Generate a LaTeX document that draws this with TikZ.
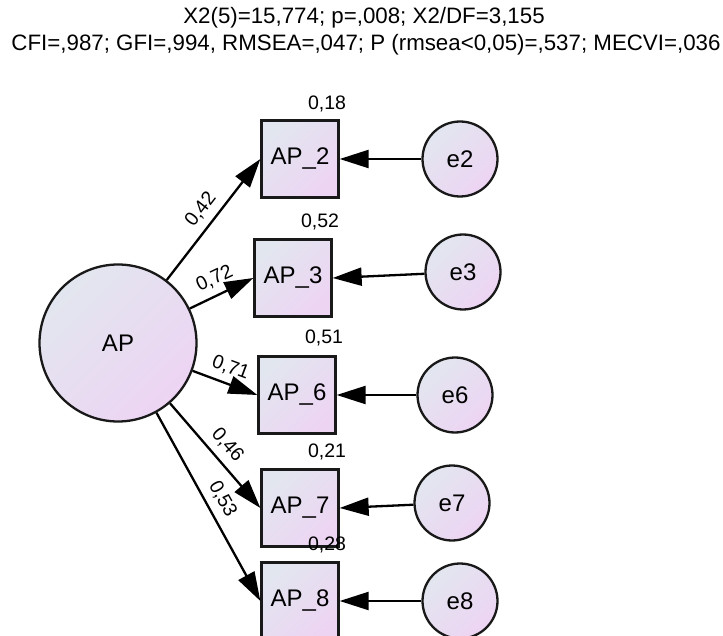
\documentclass[tikz,border=0pt]{standalone}
\usepackage{fontspec}
\setmainfont{Liberation Sans}
\usetikzlibrary{arrows.meta}
\definecolor{gA}{HTML}{E2E6EF}
\definecolor{gB}{HTML}{EDD4F3}
\begin{document}
\begin{tikzpicture}[x=1pt,y=-1pt,
  grad/.style={draw=black!90, line width=2.3pt, top color=gA, bottom color=gB, shading angle=45},
  obs/.style={grad, rectangle, minimum width=77pt, minimum height=77pt, inner sep=0pt, font=\fontsize{24}{24}\selectfont},
  lat/.style={grad, circle, minimum size=157pt, inner sep=0pt, font=\fontsize{24}{24}\selectfont},
  err/.style={grad, circle, minimum size=75pt, inner sep=0pt, font=\fontsize{24}{24}\selectfont},
  conn/.style={line width=2.3pt, -{Triangle[length=29pt,width=18pt]}},
  coef/.style={font=\fontsize{19.5}{20}\selectfont, inner sep=0pt},
  lab/.style={midway, sloped, above, inner xsep=1pt, inner ysep=7pt, font=\fontsize{19.5}{20}\selectfont},
  title/.style={font=\fontsize{22.3}{23}\selectfont, inner sep=0pt}
]
\useasboundingbox (0,0) rectangle (723,636);
\node[title] (t1) at (364,18) {X2(5)=15,774; p=,008; X2/DF=3,155};
\node[title] (t2) at (366,45) {CFI=,987; GFI=,994, RMSEA=,047; P (rmsea<0,05)=,537; MECVI=,036};

\node[lat] (AP) at (118,343) {AP};

\node[obs] (AP2) at (300,159) {AP\_2};
\node[obs] (AP3) at (293,278) {AP\_3};
\node[obs] (AP6) at (297,395) {AP\_6};
\node[obs] (AP7) at (300,508) {AP\_7};
\node[obs] (AP8) at (300,601) {AP\_8};

\node[err] (e2) at (460,159) {e2};
\node[err] (e3) at (463,272) {e3};
\node[err] (e6) at (455,395) {e6};
\node[err] (e7) at (452,503) {e7};
\node[err] (e8) at (460,601) {e8};

\node[coef] (r2) at (327,104) {0,18};
\node[coef] (r3) at (320,222) {0,52};
\node[coef] (r6) at (324,338) {0,51};
\node[coef] (r7) at (327,452) {0,21};
\node[coef] (r8) at (327,545) {0,28};

\draw[conn] (AP) -- node[lab] {0,42} (AP2.west);
\draw[conn] (AP) -- node[lab] {0,72} (AP3.west);
\draw[conn] (AP) -- node[lab] {0,71} (AP6.west);
\draw[conn] (AP) -- node[lab] {0,46} (AP7.west);
\draw[conn] (AP) -- node[lab] {0,53} (AP8.west);

\draw[conn] (e2) -- (AP2.east);
\draw[conn] (e3) -- (AP3.east);
\draw[conn] (e6) -- (AP6.east);
\draw[conn] (e7) -- (AP7.east);
\draw[conn] (e8) -- (AP8.east);
\end{tikzpicture}
\end{document}
